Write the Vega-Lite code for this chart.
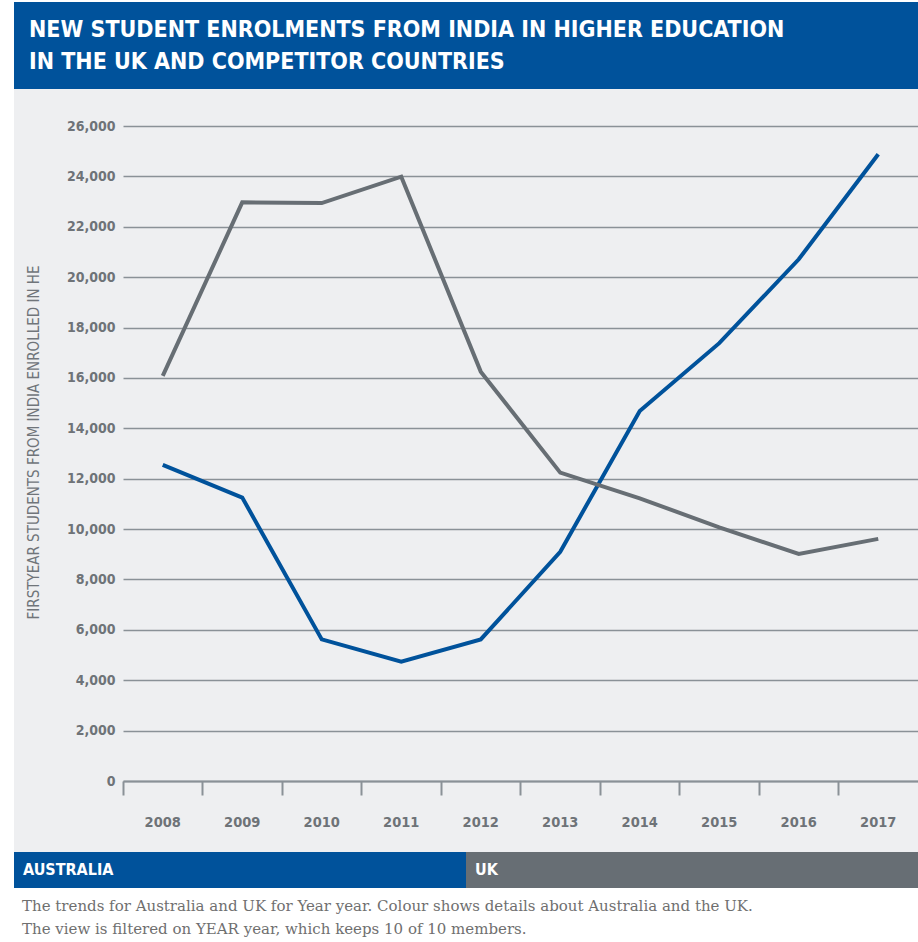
{
  "$schema": "https://vega.github.io/schema/vega-lite/v6.json",
  "background": "white",
  "padding": {"top": 2, "left": 14, "right": 0, "bottom": 0},
  "config": {"view": {"stroke": null}},
  "title": {
    "text": [
      "The trends for Australia and UK for Year year. Colour shows details about Australia and the UK.",
      "The view is filtered on YEAR year, which keeps 10 of 10 members."
    ],
    "orient": "bottom",
    "anchor": "start",
    "dx": 8,
    "offset": 11,
    "font": "DejaVu Serif",
    "fontSize": 15,
    "fontWeight": "normal",
    "color": "#6f6f6f",
    "lineHeight": 23
  },
  "spacing": 0,
  "vconcat": [
    {
      "width": 904,
      "height": 87,
      "view": {"fill": "#00529B", "stroke": null},
      "title": {
        "text": [
          "NEW STUDENT ENROLMENTS FROM INDIA IN HIGHER EDUCATION",
          "IN THE UK AND COMPETITOR COUNTRIES"
        ],
        "anchor": "start",
        "frame": "group",
        "offset": -72,
        "dx": 15,
        "font": "DejaVu Sans Condensed, Liberation Sans, sans-serif",
        "fontSize": 23,
        "fontWeight": "bold",
        "color": "white",
        "lineHeight": 32
      },
      "data": {"values": [{"part": "banner"}]},
      "mark": {"type": "rect", "color": "#00529B"},
      "encoding": {}
    },
    {
      "width": 904,
      "height": 763,
      "view": {"fill": "#EEEFF1", "stroke": null},
      "data": {
        "values": [
          {"year": "2008", "country": "Australia", "students": 12550},
          {"year": "2009", "country": "Australia", "students": 11250},
          {"year": "2010", "country": "Australia", "students": 5620},
          {"year": "2011", "country": "Australia", "students": 4740},
          {"year": "2012", "country": "Australia", "students": 5620},
          {"year": "2013", "country": "Australia", "students": 9100},
          {"year": "2014", "country": "Australia", "students": 14690},
          {"year": "2015", "country": "Australia", "students": 17380},
          {"year": "2016", "country": "Australia", "students": 20710},
          {"year": "2017", "country": "Australia", "students": 24880},
          {"year": "2008", "country": "UK", "students": 16080},
          {"year": "2009", "country": "UK", "students": 22970},
          {"year": "2010", "country": "UK", "students": 22940},
          {"year": "2011", "country": "UK", "students": 23990},
          {"year": "2012", "country": "UK", "students": 16250},
          {"year": "2013", "country": "UK", "students": 12240},
          {"year": "2014", "country": "UK", "students": 11220},
          {"year": "2015", "country": "UK", "students": 10070},
          {"year": "2016", "country": "UK", "students": 9010},
          {"year": "2017", "country": "UK", "students": 9610}
        ]
      },
      "mark": {"type": "line", "strokeWidth": 4},
      "encoding": {
        "x": {
          "field": "year",
          "type": "ordinal",
          "scale": {"type": "band", "range": [109, 904], "paddingInner": 0, "paddingOuter": 0},
          "axis": {
            "title": null,
            "offset": -71,
            "bandPosition": 0,
            "labelAngle": 0,
            "labelPadding": 20,
            "labelFont": "DejaVu Sans Condensed, Liberation Sans, sans-serif",
            "labelFontSize": 14.5,
            "labelFontWeight": "bold",
            "labelColor": "#6E7378",
            "domainColor": "#8A9197",
            "domainWidth": 2,
            "tickColor": "#8A9197",
            "tickWidth": 2,
            "tickSize": 14,
            "grid": false
          }
        },
        "y": {
          "field": "students",
          "type": "quantitative",
          "scale": {"domain": [0, 26000], "range": [692, 37], "nice": false},
          "axis": {
            "title": "FIRSTYEAR STUDENTS FROM INDIA ENROLLED IN HE",
            "offset": -109,
            "values": [0, 2000, 4000, 6000, 8000, 10000, 12000, 14000, 16000, 18000, 20000, 22000, 24000, 26000],
            "format": ",d",
            "domain": false,
            "ticks": false,
            "tickSize": 0,
            "labelPadding": 8,
            "labelFont": "DejaVu Sans Condensed, Liberation Sans, sans-serif",
            "labelFontSize": 14,
            "labelFontWeight": "bold",
            "labelColor": "#6E7378",
            "grid": true,
            "gridColor": "#8A9197",
            "gridWidth": 1.5,
            "titleX": -90,
            "titleY": 353,
            "titleAngle": -90,
            "titleAlign": "center",
            "titleBaseline": "middle",
            "titleFont": "DejaVu Sans Condensed, Liberation Sans, sans-serif",
            "titleFontSize": 15,
            "titleFontWeight": "normal",
            "titleColor": "#70757A"
          }
        },
        "color": {
          "field": "country",
          "type": "nominal",
          "scale": {"domain": ["Australia", "UK"], "range": ["#00529B", "#676E74"]},
          "legend": null
        }
      }
    },
    {
      "width": 904,
      "height": 36,
      "data": {
        "values": [
          {"country": "Australia", "label": "AUSTRALIA"},
          {"country": "UK", "label": "UK"}
        ]
      },
      "encoding": {
        "x": {
          "field": "country",
          "type": "nominal",
          "scale": {"paddingInner": 0, "paddingOuter": 0},
          "axis": null
        }
      },
      "layer": [
        {
          "mark": {"type": "bar"},
          "encoding": {
            "color": {
              "field": "country",
              "type": "nominal",
              "scale": {"domain": ["Australia", "UK"], "range": ["#00529B", "#676E74"]},
              "legend": null
            }
          }
        },
        {
          "mark": {
            "type": "text",
            "align": "left",
            "baseline": "middle",
            "dx": 9,
            "font": "DejaVu Sans Condensed, Liberation Sans, sans-serif",
            "fontSize": 16,
            "fontWeight": "bold",
            "color": "white"
          },
          "encoding": {
            "x": {"field": "country", "type": "nominal", "bandPosition": 0},
            "text": {"field": "label"}
          }
        }
      ]
    }
  ]
}
